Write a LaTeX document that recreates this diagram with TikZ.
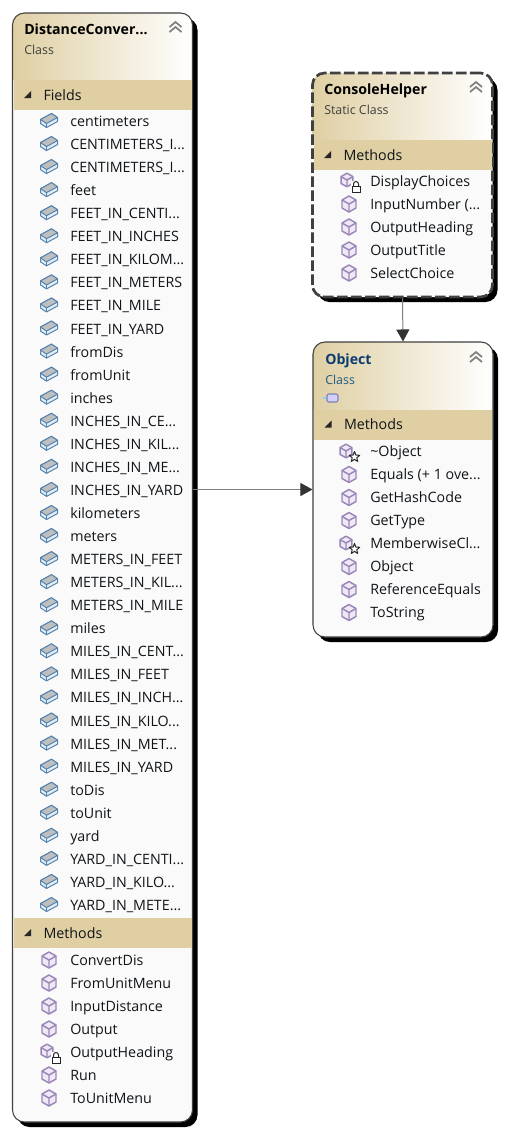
\documentclass[tikz,border=0pt]{standalone}
\usepackage{fontspec}
\setmainfont{Open Sans}
\usepackage{xcolor}
\usetikzlibrary{positioning, arrows.meta, shadows}
\definecolor{bandtan}{HTML}{DFCFA3}
\definecolor{edgegray}{HTML}{404040}
\definecolor{inkdark}{HTML}{101418}
\definecolor{navyink}{HTML}{0B3D70}
\definecolor{blueink}{HTML}{1F5A80}
\definecolor{cubeline}{HTML}{9A86B8}
\definecolor{cubefill}{HTML}{EEE9F4}
\definecolor{fieldline}{HTML}{5583AE}
\definecolor{fieldfill}{HTML}{E3EDF6}
\newcommand{\cutoff}{.{}.{}.}
\tikzset{
  fieldicon/.pic={
    \filldraw[fieldline, fill=fieldfill, line width=0.75pt, line join=round]
      (-8,-1) -- (3,-7) -- (9,-3) -- (9,1) -- (-2,7) -- (-8,3) -- cycle;
    \filldraw[fieldline, fill=black!25, line width=0.75pt, line join=round]
      (-8,-1) -- (3,-7) -- (9,-3) -- (-2,3) -- cycle;
    \draw[fieldline, line width=0.75pt] (-2,3) -- (-2,7);
  },
  methodicon/.pic={
    \filldraw[cubeline, fill=cubefill, line width=1.1pt, line join=round]
      (0,-8) -- (7,-4) -- (7,4) -- (0,8) -- (-7,4) -- (-7,-4) -- cycle;
    \draw[cubeline, line width=1.1pt] (-7,-4) -- (0,0) -- (7,-4) (0,0) -- (0,8);
  },
  lockedicon/.pic={
    \begin{scope}[shift={(-2,-1)}, scale=0.85]
      \filldraw[cubeline, fill=cubefill, line width=1.1pt, line join=round]
        (0,-8) -- (7,-4) -- (7,4) -- (0,8) -- (-7,4) -- (-7,-4) -- cycle;
      \draw[cubeline, line width=1.1pt] (-7,-4) -- (0,0) -- (7,-4) (0,0) -- (0,8);
    \end{scope}
    \fill[white] (2,0) rectangle (12,11);
    \draw[black!85, line width=0.75pt] (4.5,5) -- (4.5,3) arc[start angle=180, end angle=360, x radius=2.5, y radius=2.5] -- (9.5,5);
    \filldraw[black!85, fill=white, line width=0.75pt] (3,5) rectangle (11,11);
  },
  staricon/.pic={
    \begin{scope}[shift={(-3,-0.5)}, scale=0.85]
      \filldraw[cubeline, fill=cubefill, line width=1.1pt, line join=round]
        (0,-8) -- (7,-4) -- (7,4) -- (0,8) -- (-7,4) -- (-7,-4) -- cycle;
      \draw[cubeline, line width=1.1pt] (-7,-4) -- (0,0) -- (7,-4) (0,0) -- (0,8);
    \end{scope}
    \begin{scope}[shift={(5.5,5.5)}]
      \filldraw[black!85, fill=white, line width=0.75pt, line join=round] (-90:5.5)
        \foreach \a/\r in {-54/2.4,-18/5.5,18/2.4,54/5.5,90/2.4,126/5.5,162/2.4,198/5.5,234/2.4} { -- (\a:\r) } -- cycle;
    \end{scope}
  },
  collapse/.pic={
    \draw[black!50, line width=1.3pt] (-6,0) -- (0,-5) -- (6,0) (-6,5) -- (0,0) -- (6,5);
  }
}
\begin{document}
\begin{tikzpicture}[
      x=0.75pt, y=-0.75pt,
      classbox/.style={draw=edgegray, line width=0.8pt, rounded corners=9pt, fill=black!2,
        minimum width=135pt, inner sep=0pt,
        drop shadow={shadow xshift=3.75pt, shadow yshift=-3.75pt, fill=black, opacity=1},
        path picture={\fill[sharp corners, left color=bandtan, right color=white]
          (path picture bounding box.north west) rectangle
          ([yshift=-#1*0.75pt]path picture bounding box.north east);}},
      helperbox/.style={classbox=#1, draw=edgegray, line width=2pt, dash pattern=on 8pt off 2.5pt},
      bandbar/.style={fill=bandtan, minimum width=133.5pt, minimum height=22.5pt, inner sep=0pt},
      item/.style={anchor=west, inner sep=0pt, font=\fontsize{10.7pt}{12pt}\selectfont,
        text=inkdark, text height=10pt, text depth=1.8pt},
      titletext/.style={item, font=\fontsize{10.6pt}{12pt}\selectfont\bfseries, text=black},
      subtext/.style={item, font=\fontsize{9.3pt}{11pt}\selectfont, text=edgegray},
      arr/.style={-{Triangle[length=9pt, width=9.75pt, color=black!80]}, black!50, line width=0.75pt}
    ]
    \useasboundingbox (0,0) rectangle (504,1133);
    \fill[white] (0,0) rectangle (504,1133);

    \node[classbox=66, minimum height=831.75pt] (distance) at (102.5,567.5) {};
    \node[helperbox=66, minimum height=168pt] (helper) at (402.5,185) {};
    \node[classbox=67, minimum height=221.25pt, minimum width=135pt] (object) at (403,489.5) {};

    % header texts
    \node[titletext] (distancetitle) at (24,29) {DistanceConver\cutoff};
    \node[subtext]   (distancekind)  at (24,49) {Class};
    \node[titletext] (helpertitle)   at (324,89) {ConsoleHelper};
    \node[subtext]   (helperkind)    at (324,109) {Static Class};
    \node[titletext, text=navyink] (objecttitle) at (325,359) {Object};
    \node[subtext, text=blueink]   (objectkind)  at (325,379) {Class};
    \pic at (175.5,27) {collapse};
    \pic at (476,87) {collapse};
    \pic at (476,357) {collapse};
    \filldraw[black!60!blue!50, fill=blue!18, line width=0.8pt, rounded corners=1.5pt] (327,394) rectangle (338,402);
    \fill[cyan!50] (323,397) rectangle (326,399);

    % section bands
    \foreach \bx/\by/\lab/\nm in {102.5/95/Fields/fieldsband, 102.5/933/Methods/methodsband,
        402.5/155/Methods/helperband, 403/424.5/Methods/objectband} {
      \node[bandbar] (\nm) at (\bx,\by) {};
      \node[item, right=22.5pt of \nm.west] (\nm label) {\lab};
      \fill[black!85] ([xshift=8.25pt,yshift=-2.25pt]\nm.west) -- ++(7,0) -- ++(0,-7) -- cycle;
    }

    % members of the big class
    \foreach \nm [count=\i from 0] in {centimeters, CENTIMETERS\_I\cutoff, CENTIMETERS\_I\cutoff, feet,
        FEET\_IN\_CENTI\cutoff, FEET\_IN\_INCHES, FEET\_IN\_KILOM\cutoff, FEET\_IN\_METERS, FEET\_IN\_MILE,
        FEET\_IN\_YARD, fromDis, fromUnit, inches, INCHES\_IN\_CE\cutoff, INCHES\_IN\_KIL\cutoff,
        INCHES\_IN\_ME\cutoff, INCHES\_IN\_YARD, kilometers, meters, METERS\_IN\_FEET, METERS\_IN\_KIL\cutoff,
        METERS\_IN\_MILE, miles, MILES\_IN\_CENT\cutoff, MILES\_IN\_FEET, MILES\_IN\_INCH\cutoff,
        MILES\_IN\_KILO\cutoff, MILES\_IN\_MET\cutoff, MILES\_IN\_YARD, toDis, toUnit, yard,
        YARD\_IN\_CENTI\cutoff, YARD\_IN\_KILO\cutoff, YARD\_IN\_METE\cutoff} {
      \pic at (48.5,{120.5+23.06*\i}) {fieldicon};
      \node[item] (field\i) at (70,{121+23.06*\i}) {\nm};
    }
    \foreach \nm/\ic [count=\i from 0] in {ConvertDis/methodicon, FromUnitMenu/methodicon,
        InputDistance/methodicon, Output/methodicon, OutputHeading/lockedicon, Run/methodicon,
        ToUnitMenu/methodicon} {
      \pic at (49,{960+23*\i}) {\ic};
      \node[item] (dmethod\i) at (70,{960+23*\i}) {\nm};
    }

    % members of the helper
    \foreach \nm/\ic [count=\i from 0] in {DisplayChoices/lockedicon, InputNumber (\cutoff/methodicon,
        OutputHeading/methodicon, OutputTitle/methodicon, SelectChoice/methodicon} {
      \pic at (349,{181+23*\i}) {\ic};
      \node[item] (hmethod\i) at (370,{181.5+23*\i}) {\nm};
    }

    % members of object
    \foreach \nm/\ic [count=\i from 0] in {\textasciitilde Object/staricon, Equals (+ 1 ove\cutoff/methodicon,
        GetHashCode/methodicon, GetType/methodicon, MemberwiseCl\cutoff/staricon, Object/methodicon,
        ReferenceEquals/methodicon, ToString/methodicon} {
      \pic at (349,{451.5+23*\i}) {\ic};
      \node[item] (omethod\i) at (370,{451.5+23*\i}) {\nm};
    }

    \draw[arr] (helper.south) -- (object.north);
    \draw[arr] (distance.east |- object.west) -- (object.west);
  \end{tikzpicture}
\end{document}
